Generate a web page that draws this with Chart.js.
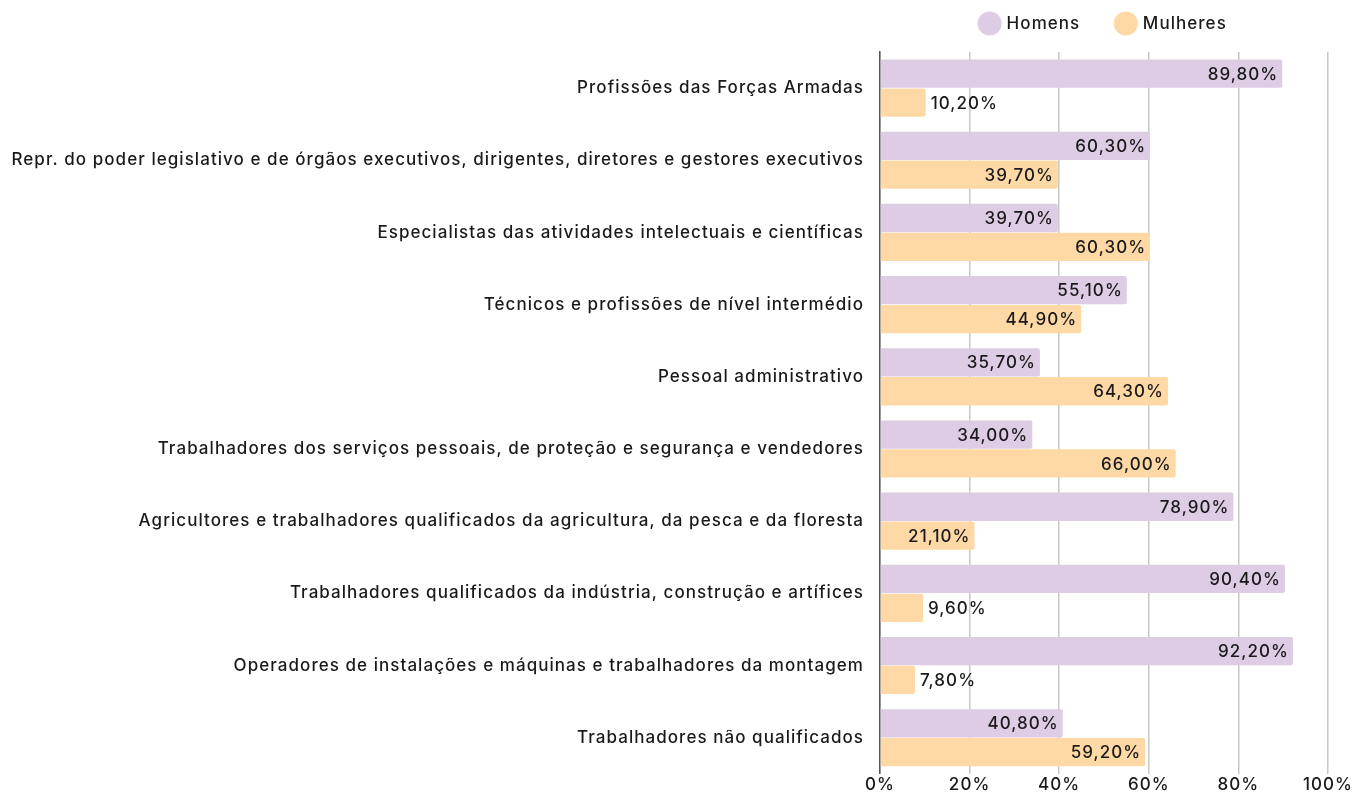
<!DOCTYPE html>
<html>
<head>
<meta charset="utf-8">
<script src="https://cdn.jsdelivr.net/npm/chart.js@4.4.1/dist/chart.umd.min.js"></script>
<style>
  html, body { margin: 0; padding: 0; background: #fff; }
  #wrap { width: 1354px; height: 792px; }
</style>
</head>
<body>
<div id="wrap"><canvas id="chart"></canvas></div>
<script>
const categories = [
    'Profissões das Forças Armadas',
    'Repr. do poder legislativo e de órgãos executivos, dirigentes, diretores e gestores executivos',
    'Especialistas das atividades intelectuais e científicas',
    'Técnicos e profissões de nível intermédio',
    'Pessoal administrativo',
    'Trabalhadores dos serviços pessoais, de proteção e segurança e vendedores',
    'Agricultores e trabalhadores qualificados da agricultura, da pesca e da floresta',
    'Trabalhadores qualificados da indústria, construção e artífices',
    'Operadores de instalações e máquinas e trabalhadores da montagem',
    'Trabalhadores não qualificados'
];
const homens = [89.8, 60.3, 39.7, 55.1, 35.7, 34.0, 78.9, 90.4, 92.2, 40.8];
const mulheres = [10.2, 39.7, 60.3, 44.9, 64.3, 66.0, 21.1, 9.6, 7.8, 59.2];
const xTicks = [0, 20, 40, 60, 80, 100];

const FONT = 'Inter, "Noto Sans", sans-serif';
const SPACING = '1.05px'; // the original font is wider than Inter

function pct(v) {
    return v.toFixed(2).replace('.', ',') + '%';
}

// widen the letters a little, so text takes the same room as in the source
const letterSpacing = {
    id: 'letterSpacing',
    beforeLayout(chart) { chart.ctx.letterSpacing = SPACING; },
    beforeDraw(chart) { chart.ctx.letterSpacing = SPACING; }
};

// labels inside the bar end, or just outside when the bar is short
const barLabels = {
    id: 'barLabels',
    afterDatasetsDraw(chart) {
        const ctx = chart.ctx;
        ctx.save();
        ctx.font = '500 17px ' + FONT;
        ctx.fillStyle = '#1a1a1a';
        ctx.textBaseline = 'middle';
        chart.data.datasets.forEach((ds, i) => {
            chart.getDatasetMeta(i).data.forEach((bar, j) => {
                const v = ds.data[j];
                const txt = pct(v);
                if (v < 15) {
                    ctx.textAlign = 'left';
                    ctx.fillText(txt, bar.x + 5, bar.y + 1);
                } else {
                    ctx.textAlign = 'right';
                    ctx.fillText(txt, bar.x - 4, bar.y + 1);
                }
            });
        });
        ctx.restore();
    }
};

// center the legend over the plot area and lift it up
const legendOverPlot = {
    id: 'legendOverPlot',
    afterLayout(chart) {
        const lg = chart.legend;
        lg.left = chart.chartArea.left;
        lg.right = chart.chartArea.right;
        lg.top -= 10;
    }
};

new Chart(document.getElementById('chart'), {
    type: 'bar',
    data: {
        labels: categories,
        datasets: [{
            label: 'Homens',
            data: homens,
            backgroundColor: '#ddcce4',
            borderRadius: 2,
            borderSkipped: 'start'
        }, {
            label: 'Mulheres',
            data: mulheres,
            backgroundColor: '#fed9a6',
            borderRadius: 2,
            borderSkipped: 'start'
        }]
    },
    options: {
        indexAxis: 'y',
        responsive: true,
        maintainAspectRatio: false,
        animation: false,
        datasets: { bar: { categoryPercentage: 0.8, barPercentage: 0.98 } },
        layout: { padding: { top: -12, right: 26, bottom: -6, left: 0 } },
        plugins: {
            legend: {
                position: 'top',
                labels: {
                    usePointStyle: true,
                    pointStyle: 'circle',
                    boxWidth: 17,
                    boxHeight: 17,
                    padding: 37,
                    color: '#1a1a1a',
                    font: { family: FONT, size: 17, weight: '500' }
                }
            },
            tooltip: { enabled: false }
        },
        scales: {
            x: {
                min: 0,
                max: 100,
                afterBuildTicks(scale) {
                    scale.ticks = xTicks.map(v => ({ value: v }));
                },
                ticks: {
                    color: '#1a1a1a',
                    font: { family: FONT, size: 17, weight: '500' },
                    padding: 1,
                    callback: v => v + '%'
                },
                grid: { color: '#c8c8c8', lineWidth: 1.5, drawTicks: false },
                border: { display: false }
            },
            y: {
                afterFit(scale) { scale.width = 880; },
                ticks: {
                    color: '#1a1a1a',
                    font: { family: FONT, size: 17, weight: '500' },
                    padding: 8
                },
                grid: { display: false },
                border: { display: true, color: '#555', width: 1.5 }
            }
        }
    },
    plugins: [letterSpacing, barLabels, legendOverPlot]
});
</script>
</body>
</html>
